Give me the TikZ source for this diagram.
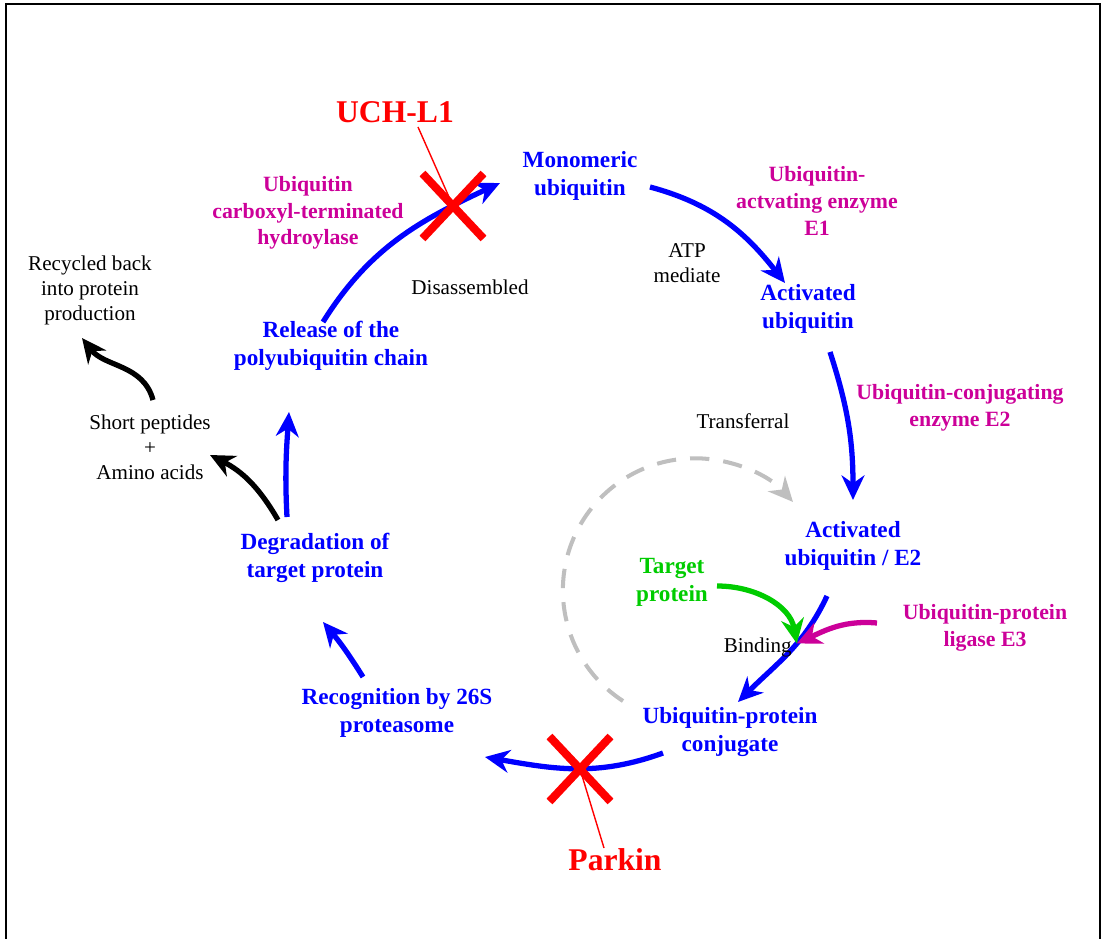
\documentclass[tikz,border=0pt]{standalone}
\usepackage{fontspec}
\setmainfont{Liberation Serif}
\usetikzlibrary{calc,arrows.meta,shapes.misc}
\definecolor{enzpink}{RGB}{204,0,153}
\definecolor{tgtgreen}{RGB}{0,204,0}

\begin{document}
\begin{tikzpicture}[
    x=0.02cm, y=0.02cm,                  % one unit = one pixel
    every node/.style={align=center, inner sep=1pt},
    stage/.style={text=blue, font=\fontsize{13.2}{15.9}\selectfont\bfseries},
    enzyme/.style={text=enzpink, font=\fontsize{12.4}{15.2}\selectfont\bfseries},
    note/.style={font=\fontsize{12}{14.2}\selectfont},
    culprit/.style={text=red, font=\fontsize{18}{20}\selectfont\bfseries},
    blockx/.style={cross out, draw=red, line width=4.6pt,
        minimum width=1.06cm, minimum height=1.14cm},
    arrowhd/.style={-{Stealth[length=14pt,width=13pt,inset=4.5pt]}},
    flow/.style={arrowhd, draw=blue, line width=3pt},
    sidearr/.style={arrowhd, draw=black, line width=3pt},
    bindarr/.style={arrowhd, line width=3pt},
    transfer/.style={arrowhd, draw=black!25, line width=2.3pt,
        dash pattern=on 11pt off 8pt},
    pointer/.style={draw=red, line width=0.8pt}
]
\useasboundingbox (0,0) rectangle (1103,-939);
\draw[line width=1.2pt] (6,-939) -- (6,-4) -- (1100,-4) -- (1100,-939);

% stages of the cycle
\node[stage] (mono)    at (580,-176) {Monomeric\\ubiquitin};
\node[stage] (act1)    at (808,-309) {Activated\\ubiquitin};
\node[stage] (act2)    at (853,-546) {Activated\\ubiquitin / E2};
\node[stage] (conj)    at (730,-732) {Ubiquitin-protein\\conjugate};
\node[stage] (recog)   at (397,-713) {Recognition by 26S\\proteasome};
\node[stage] (degr)    at (315,-558) {Degradation of\\target protein};
\node[stage] (release) at (331,-346) {Release of the\\polyubiquitin chain};
\node[stage, text=tgtgreen] (target) at (672,-582) {Target\\protein};

% enzymes
\node[enzyme] (e1)    at (817,-201) {Ubiquitin-\\actvating enzyme\\E1};
\node[enzyme] (e2)    at (960,-408) {Ubiquitin-conjugating\\enzyme E2};
\node[enzyme] (e3)    at (985,-628) {Ubiquitin-protein\\ligase E3};
\node[enzyme] (hydro) at (308,-213) {Ubiquitin\\carboxyl-terminated\\hydroylase};

% small notes
\node[note] (atp)    at (687,-263) {ATP\\mediate};
\node[note] (disas)  at (470,-287) {Disassembled};
\node[note] (transf) at (743,-421) {Transferral};
\node[note] (recyc)  at (90,-290)  {Recycled back\\into protein\\production};
\node[note] (short)  at (150,-447) {Short peptides\\+\\Amino acids};

\node[culprit] (uch)    at (395,-112) {UCH-L1};
\node[culprit] (parkin) at (615,-860) {Parkin};

% the cycle
\draw[flow] ($(release)+(-8,24)$) to[out=58,in=205] ($(mono)+(-80,-7)$);
\draw[flow] ($(mono)+(70,-11)$) to[out=-15,in=128] ($(act1)+(-23,26)$);
\draw[flow] ($(act1)+(22,-43)$) to[out=-72,in=90] ($(act2)+(0,46)$);
\draw[flow] ($(act2)+(-26,-50)$) to[out=-115,in=45]
    coordinate[pos=0.4] (bind) ($(conj)+(8,30)$);
\draw[flow] ($(conj)+(-67,-21)$) to[out=200,in=-10] ($(recog)+(88,-44)$);
\draw[flow] ($(recog)+(-34,36)$) to[out=122,in=-50] ($(degr)+(8,-64)$);
\draw[flow] ($(degr)+(-28,41)$) to[out=93,in=-94] ($(release)+(-42,-66)$);

% side branch
\draw[sidearr] ($(degr)+(-37,38)$) to[out=120,in=-27] ($(short)+(60,-8)$);
\draw[sidearr] ($(short)+(3,47)$) to[out=105,in=-52] ($(recyc)+(-8,-48)$);

% binding
\draw[bindarr, draw=tgtgreen] ($(target)+(45,-4)$) to[out=0,in=100] (bind);
\draw[bindarr, draw=enzpink] ($(e3)+(-108,5)$) to[out=175,in=25] (bind);
\node[note, anchor=east] (binding) at ($(bind)+(-3,-4)$) {Binding};

% transferral loop
\draw[transfer] ($(conj)+(-107,31)$) arc[start angle=237, end angle=42, radius=132];

% blocked steps
\node[blockx] (ucx) at (453,-206) {};
\node[blockx] (pkx) at (580,-769) {};
\draw[pointer] ($(uch)+(23,-15)$) -- (ucx.center);
\draw[pointer] (pkx.center) -- ($(parkin)+(-11,12)$);
\end{tikzpicture}
\end{document}
